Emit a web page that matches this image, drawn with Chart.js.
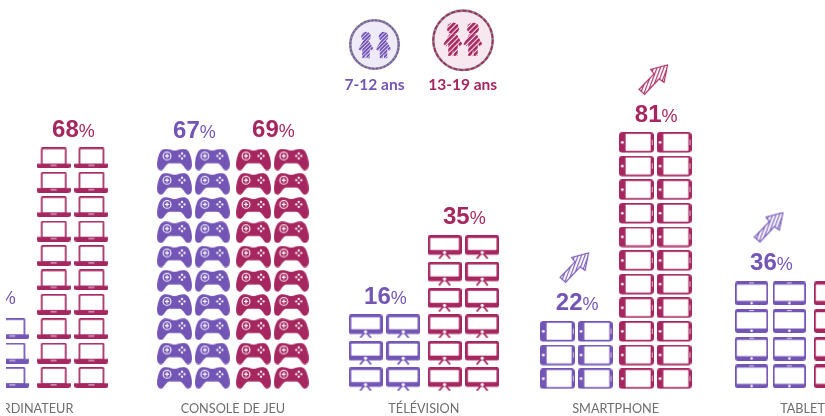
<!DOCTYPE html>
<html lang="fr">
<head>
<meta charset="utf-8">
<title>Équipement des jeunes</title>
<script src="https://cdn.jsdelivr.net/npm/chart.js@4"></script>
<style>
    html, body { margin: 0; background: #fff; }
    #page { position: relative; width: 825px; height: 416px; overflow: hidden; filter: blur(0.35px); }
    /* the reference is cropped on both sides: the chart is wider than the window */
    #crop { position: absolute; left: 6px; top: 0; width: 819px; height: 416px; overflow: hidden; }
    #chart { position: absolute; left: -66px; top: 0; }
    #key { position: absolute; left: 0; top: 0; }
    .key-label { position: absolute; top: 75px; width: 100px; text-align: center; font: bold 15.5px Lato, sans-serif; }
</style>
</head>
<body>
<div id="page">
    <div id="crop"><canvas id="chart" width="960" height="416"></canvas></div>

    <svg id="key" width="825" height="100">
        <defs>
            <pattern id="hatchViolet" width="2.6" height="2.6" patternUnits="userSpaceOnUse" patternTransform="rotate(-45)">
                <rect width="2.6" height="1.9" fill="#7355b6"/>
            </pattern>
            <pattern id="hatchCrimson" width="3" height="3" patternUnits="userSpaceOnUse" patternTransform="rotate(-45)">
                <rect width="3" height="2.1" fill="#a6265f"/>
            </pattern>
            <symbol id="kid" viewBox="0 0 16 27">
                <circle cx="8" cy="5" r="4.8"/>
                <path d="M5 9.6 L11 9.6 L15.6 17.6 L13.4 19.4 L11.8 17 L11.8 27 L8.6 27 L8 21.5 L7.4 27 L4.2 27 L4.2 17 L2.6 19.4 L.4 17.6 Z"/>
            </symbol>
        </defs>
        <circle cx="374.5" cy="44.5" r="24.2" fill="#efeaf7" stroke="#8f8b96" stroke-width="2.6"/>
        <circle cx="374.5" cy="44.5" r="24.2" fill="none" stroke="#7355b6" stroke-width="1.6" stroke-dasharray="2 1.8"/>
        <use href="#kid" x="358" y="31.5" width="16" height="27" fill="url(#hatchViolet)"/>
        <use href="#kid" x="375.5" y="31.5" width="16" height="27" fill="url(#hatchViolet)"/>

        <circle cx="463" cy="40.3" r="29.7" fill="#f7e8f0" stroke="#8f8589" stroke-width="2.6"/>
        <circle cx="463" cy="40.3" r="29.7" fill="none" stroke="#a6265f" stroke-width="1.6" stroke-dasharray="4 1.8"/>
        <use href="#kid" x="443" y="21" width="20" height="36" preserveAspectRatio="none" fill="url(#hatchCrimson)"/>
        <use href="#kid" x="463" y="21" width="20" height="36" preserveAspectRatio="none" fill="url(#hatchCrimson)"/>
    </svg>
    <div class="key-label" id="keyYoung" style="left:324.5px;color:#7355b6"></div>
    <div class="key-label" id="keyOld" style="left:412.7px;color:#a6265f"></div>
</div>

<script>
/***************************************************************
 * DATA
 ***************************************************************/
const categories = ["ORDINATEUR", "CONSOLE DE JEU", "TÉLÉVISION", "SMARTPHONE", "TABLETTE"];
const ageGroups = ["7-12 ans", "13-19 ans"];

// two values are cropped out of the picture: 20 and 40 are guesses
const values7to12 = [20, 67, 16, 22, 36];
const values13to19 = [68, 69, 35, 81, 40];

// icon rows in each stack
const rows7to12 = [3, 10, 3, 3, 4];
const rows13to19 = [10, 10, 6, 11, 4];

// the hatched arrows
const rising7to12 = [false, false, false, true, true];
const rising13to19 = [false, false, false, true, false];

/***************************************************************
 * LAYOUT
 ***************************************************************/
const VIOLET = "#7355b6";
const CRIMSON = "#a6265f";
const ICONS = ["laptop", "gamepad", "tv", "phone", "tablet"];

const PX_PER_ROW = 24.4;
const categoryPos = [0, 1.028, 2.01, 2.996, 3.995];
const groupOffset = 0.203;
const columnOffset = 0.097;
const rowStart = [0.49, 0.48, 0.42, 0.44, 0.54];
const rowPitch = [1, 0.994, 1.082, 0.968, 1.134];
const iconSize = [[34, 21], [35, 22], [34, 24], [35, 21], [33, 24]];
const labelGap = [[14, 11, 10.3, 10.7, 11.3], [10, 12, 11.7, 9.7, 11]];

/***************************************************************
 * ICONS (used as point styles)
 ***************************************************************/
function box(c, x, y, w, h, r, color) {
    c.fillStyle = color;
    c.beginPath();
    c.roundRect(x, y, w, h, r);
    c.fill();
}

function dot(c, x, y, r) {
    c.fillStyle = "#fff";
    c.beginPath();
    c.arc(x, y, r, 0, Math.PI * 2);
    c.fill();
}

const painters = {
    laptop(c, color) {
        box(c, 4.3, 0, 25.7, 17.5, 1.6, color);
        box(c, 6, 1.7, 22.3, 14.6, 0.5, "#fff");
        box(c, 0, 16.3, 34, 4.7, [0, 0, 2.3, 2.3], color);
        box(c, 14, 17.4, 6, 1, 0, "#e6d8e6");
    },
    gamepad(c, color) {
        c.fillStyle = color;
        c.beginPath();
        c.moveTo(7.5, 0.3);
        c.bezierCurveTo(12, 0, 14, 2, 17.5, 2);
        c.bezierCurveTo(21, 2, 23, 0, 27.5, 0.3);
        c.bezierCurveTo(31.5, 0.8, 33.5, 6, 34.6, 12);
        c.bezierCurveTo(35.4, 17, 35, 21.7, 31, 21.8);
        c.bezierCurveTo(28, 21.9, 26.5, 15.5, 23, 14.8);
        c.lineTo(12, 14.8);
        c.bezierCurveTo(8.5, 15.5, 7, 21.9, 4, 21.8);
        c.bezierCurveTo(0, 21.7, -0.4, 17, 0.4, 12);
        c.bezierCurveTo(1.5, 6, 3.5, 0.8, 7.5, 0.3);
        c.fill();
        c.strokeStyle = "#fff";
        c.lineWidth = 1.1;
        c.beginPath();
        c.arc(10, 7.4, 3.9, 0, Math.PI * 2);
        c.stroke();
        box(c, 7.9, 6.8, 4.2, 1.2, 0, "#fff");
        box(c, 9.4, 5.3, 1.2, 4.2, 0, "#fff");
        dot(c, 25, 4.9, 1.15);
        dot(c, 25, 9.9, 1.15);
        dot(c, 22.5, 7.4, 1.15);
        dot(c, 27.5, 7.4, 1.15);
    },
    tv(c, color) {
        c.strokeStyle = color;
        c.lineWidth = 1.8;
        c.beginPath();
        c.moveTo(17, 17);
        c.lineTo(11.5, 23.5);
        c.moveTo(17, 17);
        c.lineTo(22.5, 23.5);
        c.stroke();
        box(c, 0, 0, 34, 19.5, 2.6, color);
        box(c, 2.7, 2.7, 28.6, 12, 0.5, "#fff");
        dot(c, 17, 17.3, 1.6);
    },
    phone(c, color) {
        box(c, 0, 0, 35, 20.6, 3.6, color);
        box(c, 6.8, 1.8, 25, 17, 0.5, "#fff");
        dot(c, 3.5, 10.3, 1.4);
        box(c, 33, 7.6, 0.8, 5.4, 0, "#f0dce8");
    },
    tablet(c, color) {
        box(c, 0, 0, 33, 24, 2.4, color);
        box(c, 1.7, 3.2, 29.6, 16.3, 0.5, "#fff");
        box(c, 14, 1.2, 5, 0.9, 0, "#e6dff2");
        dot(c, 16.5, 21.7, 1.3);
    }
};

function makeIcon(name, k, color) {
    const canvas = document.createElement("canvas");
    canvas.width = iconSize[k][0];
    canvas.height = iconSize[k][1];
    painters[name](canvas.getContext("2d"), color);
    return canvas;
}

function makeArrow(color) {
    const canvas = document.createElement("canvas");
    canvas.width = 31;
    canvas.height = 32;
    const c = canvas.getContext("2d");
    const outline = () => {
        c.beginPath();
        c.moveTo(29.5, 1);
        c.lineTo(12.5, 5.5);
        c.lineTo(16, 10);
        c.lineTo(1, 25.5);
        c.lineTo(6.5, 30.5);
        c.lineTo(21, 15);
        c.lineTo(26, 18.5);
        c.closePath();
    };
    c.save();
    outline();
    c.clip();
    c.strokeStyle = color;
    c.lineWidth = 1.1;
    for (let d = 0; d < 60; d += 3.4) {
        c.beginPath();
        c.moveTo(d - 12, 32);
        c.lineTo(d, 0);
        c.stroke();
    }
    c.restore();
    c.strokeStyle = color;
    c.lineWidth = 1.1;
    outline();
    c.stroke();
    return canvas;
}

/***************************************************************
 * DATASETS
 ***************************************************************/
const series = [
    { values: values7to12, rows: rows7to12, rising: rising7to12, color: VIOLET, side: -1, index: 0 },
    { values: values13to19, rows: rows13to19, rising: rising13to19, color: CRIMSON, side: 1, index: 1 }
];

function groupX(k, s) {
    return categoryPos[k] + s.side * groupOffset;
}

function topRowY(k, s) {
    return rowStart[k] + (s.rows[k] - 1) * rowPitch[k];
}

const datasets = [];

series.forEach(s => {
    categories.forEach((name, k) => {
        const points = [];
        for (let r = 0; r < s.rows[k]; r++) {
            const y = rowStart[k] + r * rowPitch[k];
            points.push({ x: groupX(k, s) - columnOffset, y: y });
            points.push({ x: groupX(k, s) + columnOffset, y: y });
        }
        datasets.push({
            label: name + " " + ageGroups[s.index],
            data: points,
            pointStyle: makeIcon(ICONS[k], k, s.color),
            pointRadius: 12,
            showLine: false,
            clip: false,
            valueLabel: { value: s.values[k], color: s.color, gap: labelGap[s.index][k], height: iconSize[k][1] }
        });

        if (s.rising[k]) {
            const lift = (iconSize[k][1] / 2 + labelGap[s.index][k] + 42.5) / PX_PER_ROW;
            datasets.push({
                label: "hausse " + name + " " + ageGroups[s.index],
                data: [{ x: groupX(k, s) - 0.008, y: topRowY(k, s) + lift }],
                pointStyle: makeArrow(s.color),
                pointRadius: 12,
                showLine: false,
                clip: false
            });
        }
    });
});

/***************************************************************
 * VALUE LABELS
 ***************************************************************/
const valueLabels = {
    id: "valueLabels",
    afterDatasetsDraw(chart) {
        const c = chart.ctx;
        chart.data.datasets.forEach((ds, i) => {
            if (!ds.valueLabel) return;
            const info = ds.valueLabel;
            const pts = chart.getDatasetMeta(i).data;
            const top = pts[pts.length - 1];
            const left = pts[pts.length - 2];
            const center = (left.x + top.x) / 2;
            const baseline = top.y - info.height / 2 - info.gap;
            const digits = String(info.value);
            const digitFont = "bold 24px 'Liberation Sans', Arial, sans-serif";
            const percentFont = "18px 'Liberation Sans', Arial, sans-serif";

            c.save();
            c.fillStyle = info.color;
            c.textBaseline = "alphabetic";
            c.textAlign = "left";
            c.font = digitFont;
            const digitsWidth = c.measureText(digits).width;
            c.font = percentFont;
            const percentWidth = c.measureText("%").width;
            const start = center - (digitsWidth + percentWidth) / 2 + 1;
            c.font = digitFont;
            c.fillText(digits, start, baseline);
            c.font = percentFont;
            c.fillText("%", start + digitsWidth, baseline);
            c.restore();
        });
    }
};

/***************************************************************
 * CHART
 ***************************************************************/
document.getElementById("keyYoung").textContent = ageGroups[0];
document.getElementById("keyOld").textContent = ageGroups[1];

new Chart(document.getElementById("chart"), {
    type: "scatter",
    data: { datasets: datasets },
    options: {
        responsive: false,
        animation: false,
        layout: { padding: 0, autoPadding: false },
        plugins: {
            legend: { display: false },
            tooltip: { enabled: false }
        },
        scales: {
            x: {
                type: "linear",
                min: -0.478,
                max: 4.458,
                border: { display: false },
                grid: { display: false },
                afterBuildTicks: scale => {
                    scale.ticks = categoryPos.map(v => ({ value: v }));
                },
                afterFit: scale => {
                    scale.height = 26.5;
                },
                ticks: {
                    autoSkip: false,
                    maxRotation: 0,
                    padding: 4,
                    color: "#6e6e6e",
                    font: { family: "Lato, sans-serif", size: 12.7 },
                    callback: (value, i) => categories[i]
                }
            },
            y: {
                display: false,
                min: 0,
                max: 389.5 / PX_PER_ROW
            }
        }
    },
    plugins: [valueLabels]
});
</script>
</body>
</html>
